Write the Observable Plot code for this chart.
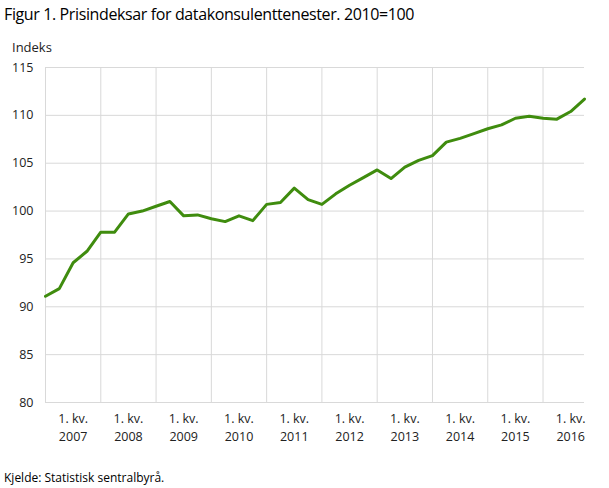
<!DOCTYPE html>
<html><head><meta charset="utf-8">
<script src="https://cdn.jsdelivr.net/npm/d3@7"></script>
<script src="https://cdn.jsdelivr.net/npm/@observablehq/plot@0.6"></script>
<style>
body{margin:0;font-family:"Open Sans",sans-serif;background:#fff;}
#wrap{position:relative;width:609px;height:488px;overflow:hidden;}
#title{position:absolute;left:4px;top:3px;font-size:16px;font-weight:400;letter-spacing:-0.38px;color:#000;white-space:nowrap;}
#ylab{position:absolute;left:12px;top:38px;font-size:13px;color:#222;}
#chart{position:absolute;left:0;top:38px;}
#src{position:absolute;left:4px;top:469px;font-size:12px;color:#000;}
</style>
</head><body>
<div id="wrap">
<div id="title">Figur 1. Prisindeksar for datakonsulenttenester. 2010=100</div>
<div id="ylab">Indeks</div>
<div id="chart"></div>
<div id="src">Kjelde: Statistisk sentralbyrå.</div>
</div>
<script>
const periods = [
  "2007K1","2007K2","2007K3","2007K4","2008K1","2008K2","2008K3","2008K4",
  "2009K1","2009K2","2009K3","2009K4","2010K1","2010K2","2010K3","2010K4",
  "2011K1","2011K2","2011K3","2011K4","2012K1","2012K2","2012K3","2012K4",
  "2013K1","2013K2","2013K3","2013K4","2014K1","2014K2","2014K3","2014K4",
  "2015K1","2015K2","2015K3","2015K4","2016K1","2016K2","2016K3","2016K4"
];
const indexValues = [
  91.1, 91.9, 94.6, 95.8, 97.8, 97.8, 99.7, 100.0,
  100.5, 101.0, 99.5, 99.6, 99.2, 98.9, 99.5, 99.0,
  100.7, 100.9, 102.4, 101.2, 100.7, 101.8, 102.7, 103.5,
  104.3, 103.4, 104.6, 105.3, 105.8, 107.2, 107.6, 108.1,
  108.6, 109.0, 109.7, 109.9, 109.7, 109.6, 110.4, 111.7
];
const years = ["2007","2008","2009","2010","2011","2012","2013","2014","2015","2016"];
const yTicks = [80, 85, 90, 95, 100, 105, 110, 115];

const data = periods.map((p, i) => ({period: p, i, value: indexValues[i]}));
const yearStarts = years.map(y => periods.indexOf(y + "K1"));
const labelPos = yearStarts.map(s => s + 2);

const chart = Plot.plot({
  width: 609,
  height: 420,
  marginLeft: 45,
  marginRight: 25,
  marginTop: 29,
  marginBottom: 56,
  style: {fontFamily: "'Open Sans', sans-serif", fontSize: "12.5px", color: "#222"},
  x: {domain: [0, periods.length - 1], axis: null},
  y: {domain: [80, 115], axis: null},
  marks: [
    Plot.gridY(yTicks, {stroke: "#d9d9d9", strokeOpacity: 1, strokeWidth: 1}),
    Plot.gridX(yearStarts, {stroke: "#d9d9d9", strokeOpacity: 1, strokeWidth: 1}),
    Plot.axisY(yTicks, {tickSize: 0, tickPadding: 12, fontSize: 12.5, fill: "#222", label: null}),
    Plot.axisX(labelPos, {tickSize: 0, tickPadding: 8, fontSize: 12.5, fill: "#222", lineHeight: 1.45, label: null,
      tickFormat: (d) => "1. kv.\n" + years[yearStarts.indexOf(d - 2)]}),
    Plot.line(data, {x: "i", y: "value", stroke: "#3f8c0e", strokeWidth: 3, strokeLinejoin: "round"})
  ]
});
document.getElementById("chart").appendChild(chart);
</script>
</body></html>
